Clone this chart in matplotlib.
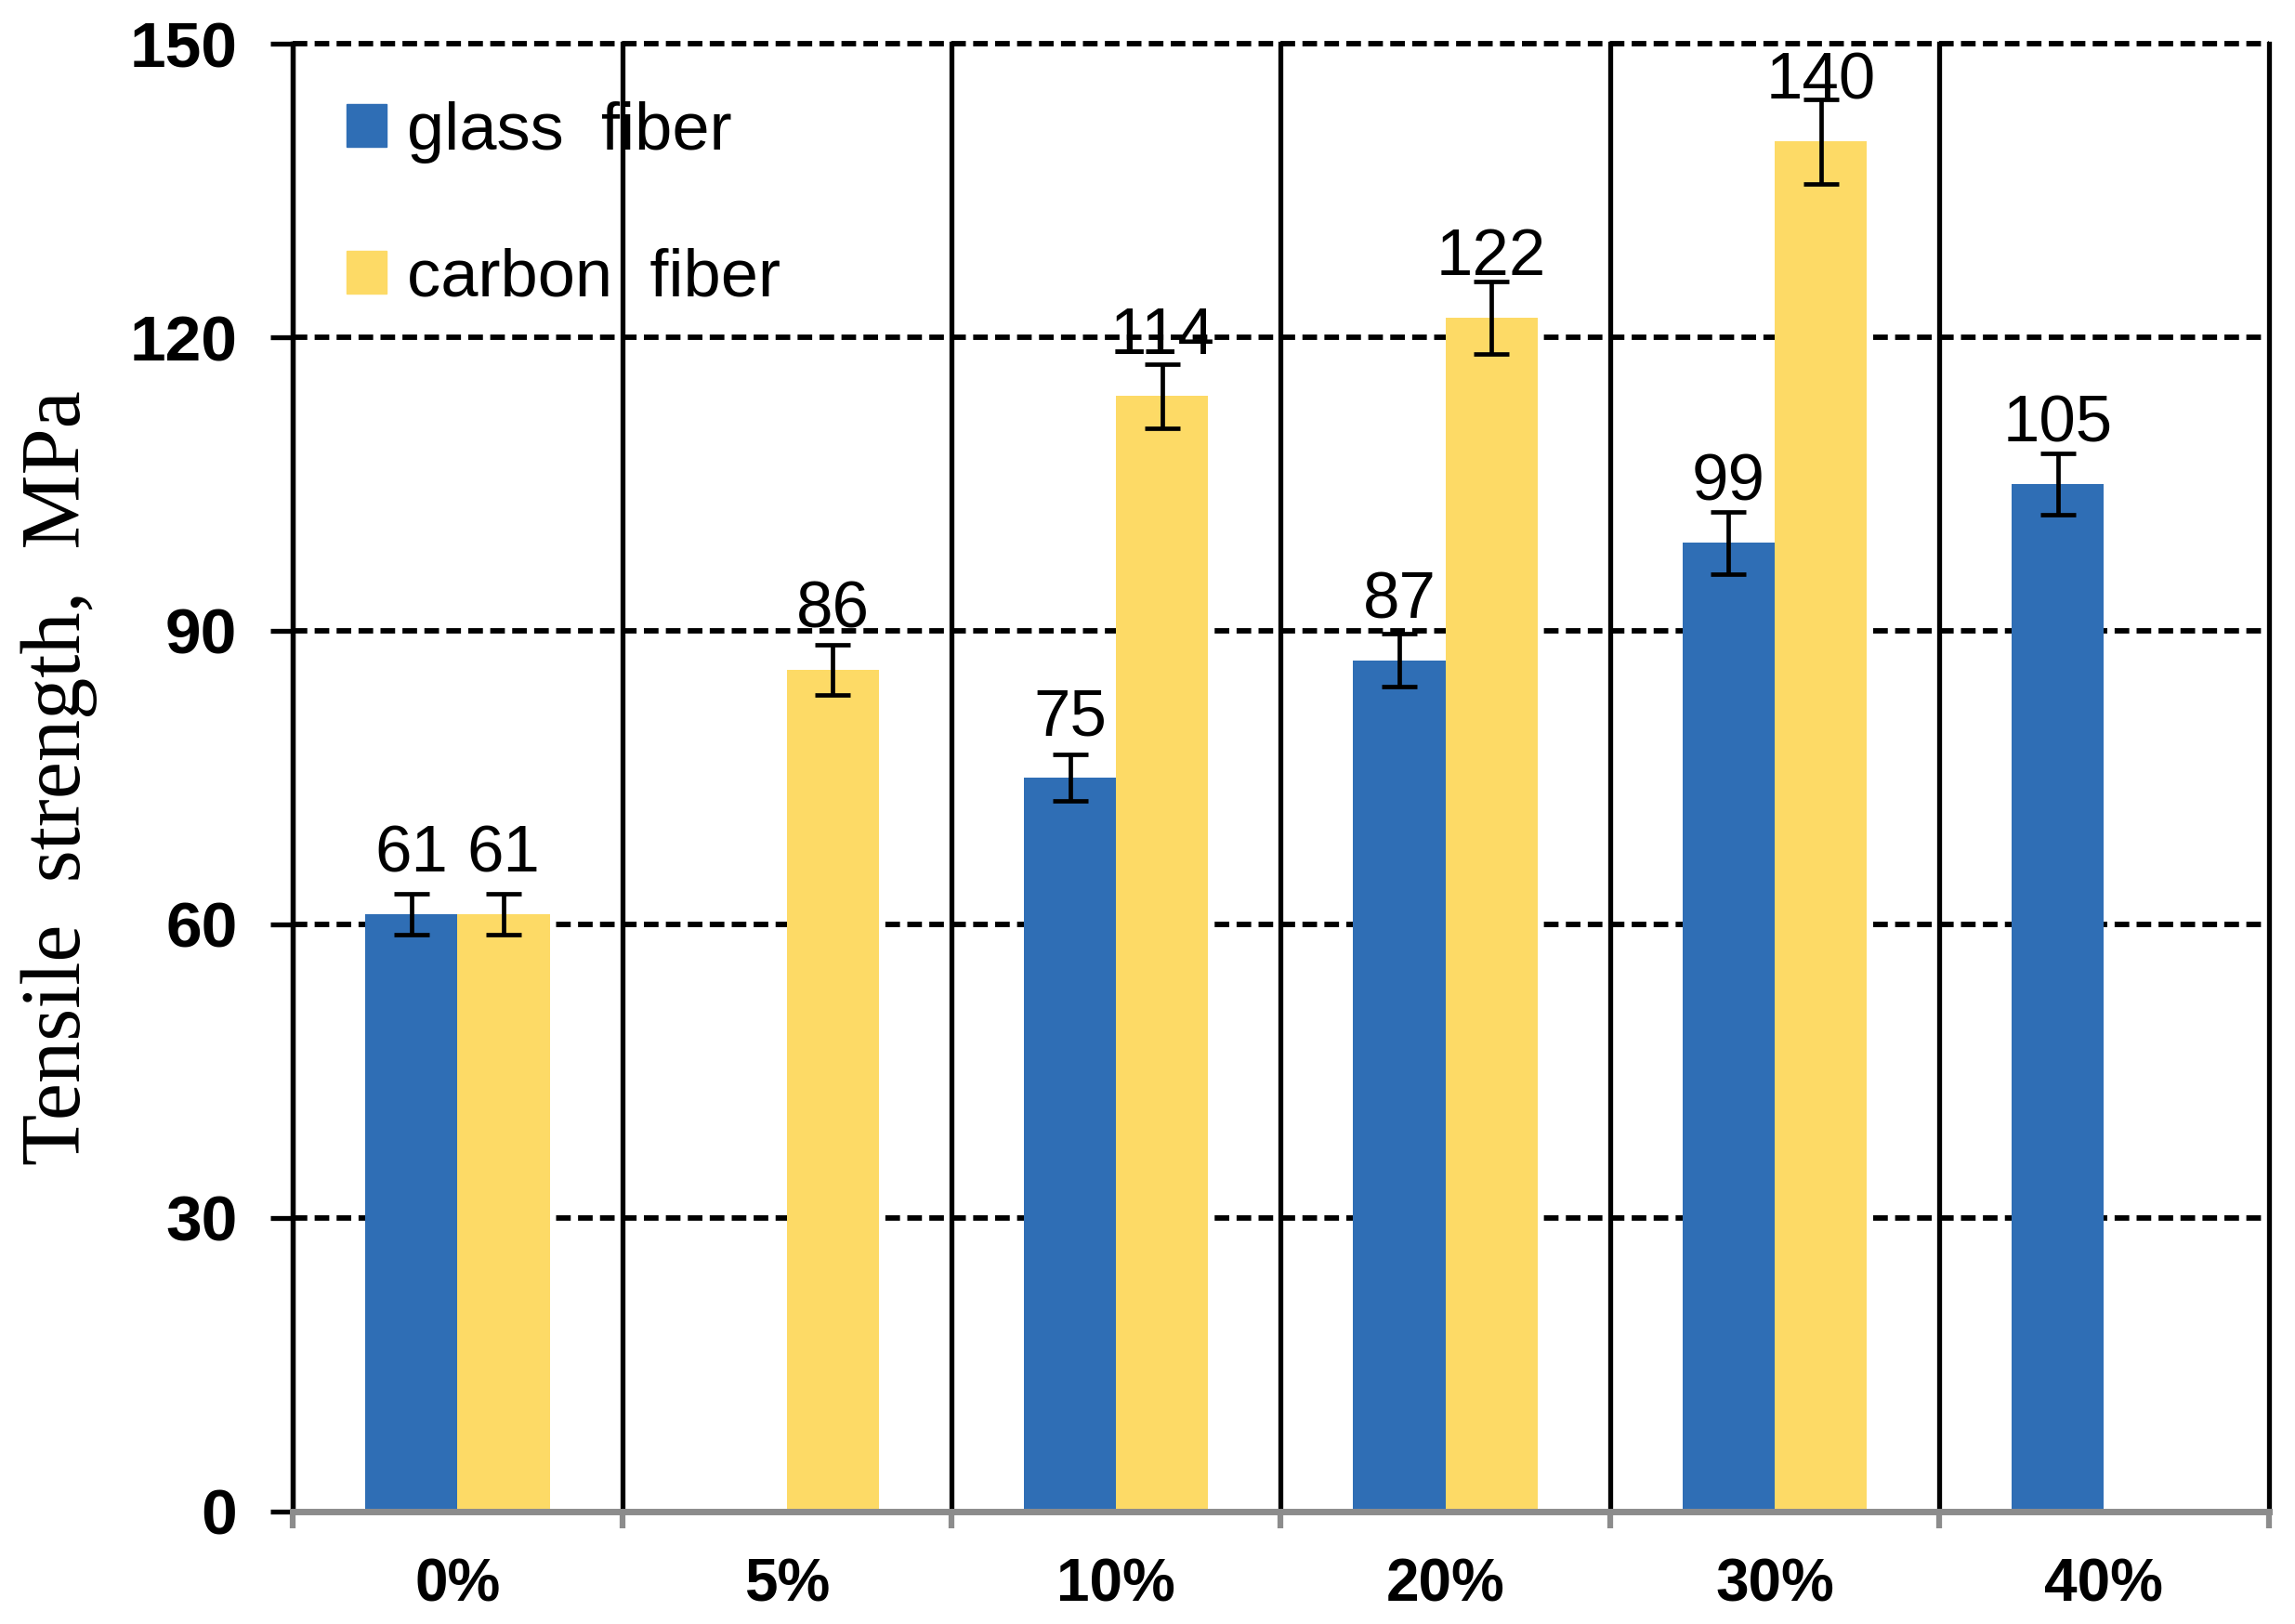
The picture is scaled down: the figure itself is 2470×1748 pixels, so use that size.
import numpy as np
import matplotlib
matplotlib.use("Agg")
import matplotlib.pyplot as plt
from matplotlib.patches import Patch

# ---- data ----
categories = ["0%", "5%", "10%", "20%", "30%", "40%"]
glass = [61, np.nan, 75, 87, 99, 105]
carbon = [61, 86, 114, 122, 140, np.nan]
glass_err = [2.1, np.nan, 2.4, 2.7, 3.2, 3.1]
carbon_err = [2.1, 2.6, 3.3, 3.7, 4.3, np.nan]
series_names = ["glass  fiber", "carbon  fiber"]
yticks = [0, 30, 60, 90, 120, 150]

blue = "#2F6EB5"
yellow = "#FDDA66"

plt.rcParams["font.family"] = ["Liberation Sans", "DejaVu Sans"]

fig = plt.figure(figsize=(24.7, 17.48), dpi=100)
ax = fig.add_axes([0.1276, 0.0694, 0.9885 - 0.1276, 0.973 - 0.0694])

x = np.arange(len(categories))
w = 0.28

# gridlines (behind bars)
for yv in yticks[1:]:
    ax.axhline(yv, color="black", lw=4.2, ls=(0, (2.7, 1.35)), zorder=1, clip_on=False)
for xb in np.arange(-0.5, len(categories) + 0.5, 1.0):
    ax.axvline(xb, color="black", lw=3.8, zorder=1, clip_on=False)

b1 = ax.bar(x - w / 2, glass, w, color=blue, zorder=2, label=series_names[0])
b2 = ax.bar(x + w / 2, carbon, w, color=yellow, zorder=2, label=series_names[1])

ax.errorbar(x - w / 2, glass, yerr=glass_err, fmt="none", ecolor="black",
            elinewidth=3.4, capsize=13.5, capthick=3.4, zorder=3)
ax.errorbar(x + w / 2, carbon, yerr=carbon_err, fmt="none", ecolor="black",
            elinewidth=3.4, capsize=13.5, capthick=3.4, zorder=3)

for cont, vals in ((b1, glass), (b2, carbon)):
    labels = ["" if np.isnan(v) else f"{v:.0f}" for v in vals]
    ax.bar_label(cont, labels=labels, padding=22, fontsize=51, color="black", zorder=4)

ax.set_xlim(-0.5, len(categories) - 0.5)
ax.set_ylim(0, 150)
ax.set_yticks(yticks)
ax.set_yticklabels([str(v) for v in yticks], fontsize=50, fontweight="bold")
ax.set_xticks(x)
ax.set_xticklabels(categories, fontsize=46, fontweight="bold")
ax.set_xticks(np.arange(-0.5, len(categories) + 0.5, 1.0), minor=True)

ax.tick_params(axis="y", direction="out", length=17, width=3.8, color="black", pad=26)
ax.tick_params(axis="x", which="major", length=0, pad=36)
ax.tick_params(axis="x", which="minor", direction="out", length=13, width=4.5, color="#8c8c8c")

for s in ("top", "right"):
    ax.spines[s].set_visible(False)
ax.spines["left"].set_color("black")
ax.spines["left"].set_linewidth(3.8)
ax.spines["bottom"].set_color("#8c8c8c")
ax.spines["bottom"].set_linewidth(5)
ax.spines["bottom"].set_zorder(5)

ax.set_ylabel("Tensile  strength,  MPa", family=["Liberation Serif", "DejaVu Serif"],
              fontsize=65)
ax.yaxis.set_label_coords(-0.099, 0.5)

handles = [Patch(color=blue), Patch(color=yellow)]
ax.legend(handles, series_names, loc="upper left", bbox_to_anchor=(0.027, 0.961),
          frameon=False, fontsize=52, handlelength=0.6, handleheight=0.6,
          handletextpad=0.3, labelspacing=1.25, borderaxespad=0, borderpad=0)

fig.savefig("out.png", dpi=100, facecolor="white")
